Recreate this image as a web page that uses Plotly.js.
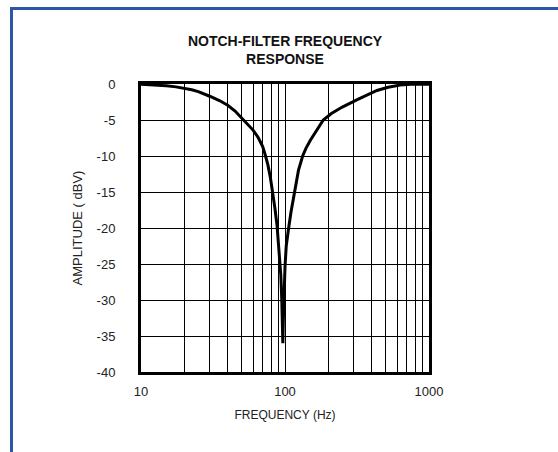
<!DOCTYPE html>
<html>
<head>
<meta charset="utf-8">
<script src="https://cdn.plot.ly/plotly-3.0.1.min.js"></script>
<style>
  html, body { margin: 0; padding: 0; background: #fff; }
  #wrap { position: relative; width: 558px; height: 452px; overflow: hidden; }
  #chart { width: 558px; height: 452px; }
  #frame { position: absolute; left: 10px; top: 7px; width: 560px; height: 460px;
           border-left: 3px solid #2b57a6; border-top: 3px solid #2b57a6; pointer-events: none; }
</style>
</head>
<body>
<div id="wrap">
  <div id="chart"></div>
  <div id="frame"></div>
</div>
<script>
// Frequency (Hz)
const freqHz = [10, 12, 15, 17.5, 20, 22.5, 25, 27.5, 30, 35, 40, 45, 50, 55, 60, 65, 70, 73, 76, 79, 82, 85, 88, 91, 93.5, 95, 96, 96.6,
                97.3, 98.2, 100, 102, 104, 106, 110, 116, 124, 132.6, 140, 150, 165, 184.5, 210, 250, 315, 375, 435, 520, 630, 750, 1000];
// Amplitude (dBV)
const ampDbv = [-0.05, -0.12, -0.25, -0.4, -0.6, -0.8, -1.05, -1.35, -1.7, -2.3, -2.95, -3.75, -4.75, -5.6, -6.4, -7.4, -8.7, -9.9, -11.2, -12.9, -14.9, -17.2, -19.6, -22.8, -26.5, -30, -33, -36,
                -33, -30, -25.4, -22.5, -21, -20, -17.8, -15, -12, -10, -8.9, -7.8, -6.5, -5, -4.1, -3.2, -2.2, -1.5, -0.9, -0.45, -0.15, -0.05, -0.05];

const xMajorTicks = [10, 100, 1000];
const xMajorLabels = ['10', '100', '1000'];
const xMinorTicks = [20, 30, 40, 50, 60, 70, 80, 90, 200, 300, 400, 500, 600, 700, 800, 900];
const yTicks = [0, -5, -10, -15, -20, -25, -30, -35, -40];
const yLabels = ['0', '-5', '-10', '-15', '-20', '-25', '-30', '-35', '-40'];

const FONT = '"Liberation Sans", Arial, sans-serif';

const trace = {
  x: freqHz,
  y: ampDbv,
  type: 'scatter',
  mode: 'lines',
  line: { color: '#000', width: 3 },
  hoverinfo: 'skip'
};

// plot area: x 141..429, y 84..372 (pixels)
const L = 141, R = 429, T = 84, B = 372;

const layout = {
  width: 558, height: 452,
  margin: { l: L, r: 558 - R, t: T, b: 452 - B, pad: 0 },
  paper_bgcolor: '#fff', plot_bgcolor: '#fff',
  showlegend: false,
  font: { family: FONT, size: 13, color: '#222' },
  title: {
    text: '<b>NOTCH-FILTER FREQUENCY<br>RESPONSE</b>',
    font: { family: FONT, size: 14, color: '#111' },
    x: 0.5, xref: 'paper', xanchor: 'center',
    y: 1 - 46 / 452, yref: 'container', yanchor: 'top'
  },
  xaxis: {
    type: 'log',
    range: [1, 3],
    tickmode: 'array',
    tickvals: xMajorTicks,
    ticktext: xMajorLabels,
    ticks: '',
    ticklabelstandoff: 5,
    showgrid: true, gridcolor: '#000', gridwidth: 1,
    minor: { tickmode: 'array', tickvals: xMinorTicks, showgrid: true, gridcolor: '#000', gridwidth: 1, ticks: '' },
    showline: true, linecolor: '#000', linewidth: 3, mirror: true,
    zeroline: false,
    tickfont: { family: FONT, size: 13, color: '#222' },
    title: { text: 'FREQUENCY (Hz)', font: { family: FONT, size: 12, color: '#222' }, standoff: 14 }
  },
  yaxis: {
    range: [-40, 0],
    tickmode: 'array',
    tickvals: yTicks,
    ticktext: yLabels,
    ticks: '',
    ticklabelstandoff: 20,
    showgrid: true, gridcolor: '#000', gridwidth: 1,
    showline: true, linecolor: '#000', linewidth: 3, mirror: true,
    zeroline: false,
    tickfont: { family: FONT, size: 13, color: '#222' },
    title: { text: 'AMPLITUDE ( dBV)', font: { family: FONT, size: 13, color: '#222' }, standoff: 12 }
  }
};

Plotly.newPlot('chart', [trace], layout, { displayModeBar: false, staticPlot: true });
</script>
</body>
</html>
